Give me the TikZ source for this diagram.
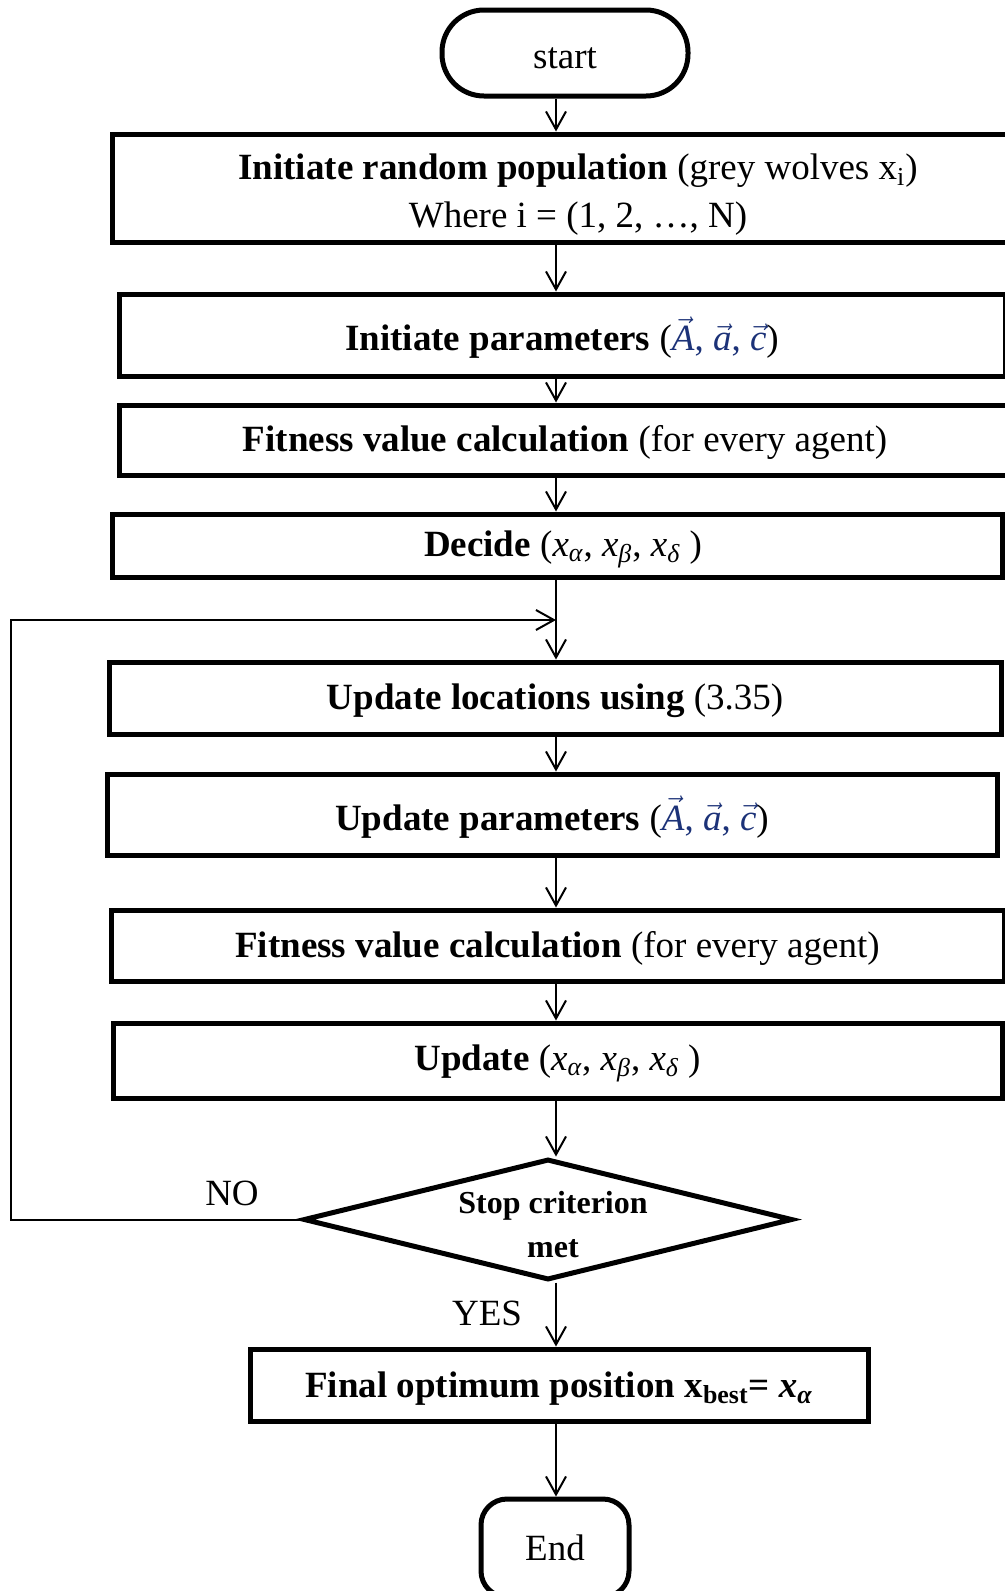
\documentclass[tikz,border=0pt]{standalone}
\usepackage{fontspec}
\setmainfont{Liberation Serif}
\usetikzlibrary{arrows.meta,shapes.geometric}
\definecolor{vecblue}{RGB}{28,50,120}
\newcommand{\myvec}[1]{\ensuremath{\vec{\mbox{\itshape #1}}}}
\newcommand{\xs}[1]{\textit{x}\textsubscript{\itshape #1}}
\begin{document}
\begin{tikzpicture}[x=0.5pt,y=-0.5pt,
  box/.style={draw, line width=2.5pt, inner sep=0pt},
  txt/.style={align=center, inner sep=0pt, font=\fontsize{18.5}{24}\selectfont},
  conn/.style={line width=1pt, -{Straight Barb[length=9pt,width=10pt,line width=1pt]}},
  lab/.style={font=\fontsize{18.5}{24}\selectfont}]
\clip (0,0) rectangle (1005,1591);
\fill[white] (0,0) rectangle (1005,1591);
\coordinate (col) at (556,0);
\coordinate (lx) at (11,0);
\coordinate (jn) at (556,620);

% shapes
\node[box, rounded corners=21pt, minimum width=123pt, minimum height=43pt] (start) at (565,53) {};
\node[box, minimum width=466pt, minimum height=54pt] (b1) at (578,188) {};
\node[box, minimum width=443pt, minimum height=41pt] (b2) at (562,335) {};
\node[box, minimum width=446pt, minimum height=35pt] (b3) at (565,440) {};
\node[box, minimum width=445pt, minimum height=31.5pt] (b4) at (557,545.5) {};
\node[box, minimum width=446pt, minimum height=36pt] (b5) at (555,698) {};
\node[box, minimum width=445pt, minimum height=40.5pt] (b6) at (552,814.5) {};
\node[box, minimum width=446.5pt, minimum height=35.5pt] (b7) at (557.5,945.5) {};
\node[box, minimum width=444.5pt, minimum height=37.5pt] (b8) at (557.5,1060.5) {};
\node[diamond, draw, line width=2.5pt, inner sep=0pt, aspect=4,
      minimum width=244.5pt, minimum height=60.5pt] (dec) at (548,1219.5) {};
\node[box, minimum width=309pt, minimum height=36pt] (fin) at (559,1385) {};
\node[box, rounded corners=13pt, minimum width=74pt, minimum height=49pt] (end) at (555,1548) {};

% texts
\node[txt] (startt) at ([yshift=-2.5pt]start.center) {start};
\node[txt] (b1t) at ([yshift=-3.5pt]b1.center)
  {\textbf{Initiate random population} (grey wolves x\textsubscript{i})\\Where i = (1, 2, …, N)};
\node[txt] (b2t) at ([yshift=-1.2pt]b2.center)
  {\textbf{Initiate parameters} ({\color{vecblue}\myvec{A}, \myvec{a}, \myvec{c}})};
\node[txt] (b3t) at ([yshift=-1.2pt]b3.center)
  {\textbf{Fitness value calculation} (for every agent)};
\node[txt] (b4t) at ([xshift=3pt,yshift=-2pt]b4.center)
  {\textbf{Decide} (\xs{α}, \xs{β}, \xs{δ} )};
\node[txt] (b5t) at ([yshift=-1.5pt]b5.center)
  {\textbf{Update locations using} (3.35)};
\node[txt] (b6t) at ([yshift=-1.2pt]b6.center)
  {\textbf{Update parameters} ({\color{vecblue}\myvec{A}, \myvec{a}, \myvec{c}})};
\node[txt] (b7t) at ([yshift=-1.5pt]b7.center)
  {\textbf{Fitness value calculation} (for every agent)};
\node[txt] (b8t) at ([yshift=-1.5pt]b8.center)
  {\textbf{Update} (\xs{α}, \xs{β}, \xs{δ} )};
\node[txt, font=\bfseries\fontsize{16}{22}\selectfont] (dect) at ([xshift=2.5pt,yshift=-2.3pt]dec.center) {Stop criterion\\met};
\node[txt] (fint) at ([yshift=-2pt]fin.center)
  {\textbf{Final optimum position x\textsubscript{best}= \textit{x}\textsubscript{\itshape α}}};
\node[txt] (endt) at (end.center) {End};

\node[lab] (no) at (232,1193) {NO};
\node[lab] (yes) at (487,1313) {YES};

% connectors
\draw[conn] (start.south -| col) -- (b1.north -| col);
\draw[conn] (b1.south -| col) -- (b2.north -| col);
\draw[conn] (b2.south -| col) -- (b3.north -| col);
\draw[conn] (b3.south -| col) -- (b4.north -| col);
\draw[conn] (b4.south -| col) -- (b5.north -| col);
\draw[conn] (b5.south -| col) -- (b6.north -| col);
\draw[conn] (b6.south -| col) -- (b7.north -| col);
\draw[conn] (b7.south -| col) -- (b8.north -| col);
\draw[conn] (b8.south -| col) -- (dec.north -| col);
\draw[conn] (dec.south -| col) -- (fin.north -| col);
\draw[conn] (fin.south -| col) -- (end.north -| col);
\draw[conn] (dec.west) -- (dec.west -| lx) |- (jn);
\end{tikzpicture}
\end{document}
